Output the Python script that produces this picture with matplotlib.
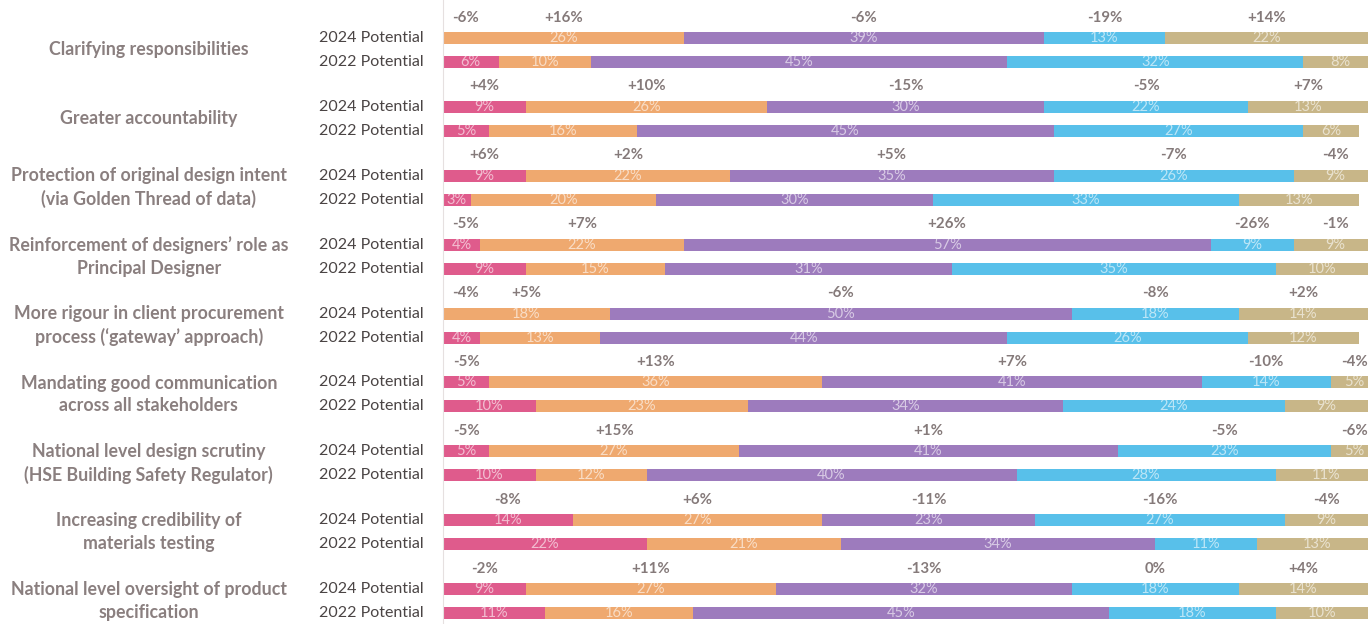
import matplotlib.pyplot as plt
import numpy as np

# Share of respondents per rating band, two survey years per question
questions = [
    "Clarifying responsibilities",
    "Greater accountability",
    "Protection of original design intent\n(via Golden Thread of data)",
    "Reinforcement of designers\u2019 role as\nPrincipal Designer",
    "More rigour in client procurement\nprocess (\u2018gateway\u2019 approach)",
    "Mandating good communication\nacross all stakeholders",
    "National level design scrutiny\n(HSE Building Safety Regulator)",
    "Increasing credibility of\nmaterials testing",
    "National level oversight of product\nspecification",
]
years = ["2024 Potential", "2022 Potential"]

potential_2024 = np.array([
    [0, 26, 39, 13, 22],
    [9, 26, 30, 22, 13],
    [9, 22, 35, 26, 9],
    [4, 22, 57, 9, 9],
    [0, 18, 50, 18, 14],
    [5, 36, 41, 14, 5],
    [5, 27, 41, 23, 5],
    [14, 27, 23, 27, 9],
    [9, 27, 32, 18, 14],
])
potential_2022 = np.array([
    [6, 10, 45, 32, 8],
    [5, 16, 45, 27, 6],
    [3, 20, 30, 33, 13],
    [9, 15, 31, 35, 10],
    [4, 13, 44, 26, 12],
    [10, 23, 34, 24, 9],
    [10, 12, 40, 28, 11],
    [22, 21, 34, 11, 13],
    [11, 16, 45, 18, 10],
])
changes = [
    ["-6%", "+16%", "-6%", "-19%", "+14%"],
    ["+4%", "+10%", "-15%", "-5%", "+7%"],
    ["+6%", "+2%", "+5%", "-7%", "-4%"],
    ["-5%", "+7%", "+26%", "-26%", "-1%"],
    ["-4%", "+5%", "-6%", "-8%", "+2%"],
    ["-5%", "+13%", "+7%", "-10%", "-4%"],
    ["-5%", "+15%", "+1%", "-5%", "-6%"],
    ["-8%", "+6%", "-11%", "-16%", "-4%"],
    ["-2%", "+11%", "-13%", "0%", "+4%"],
]

colors = ["#df5b8c", "#efa96f", "#9d7bbd", "#58c0ea", "#c8b688"]

plt.rcParams['font.family'] = ['Lato', 'DejaVu Sans']

fig = plt.figure(figsize=(13.71, 6.24), dpi=100)
ax = fig.add_axes([443 / 1371, 0, 925 / 1371, 1])

group_gap = 2.87
bar_h = 0.5

for i in range(len(questions)):
    y0 = i * group_gap
    for row, y in ((potential_2024[i], y0), (potential_2022[i], y0 + 1)):
        left = np.concatenate([[0], np.cumsum(row)[:-1]])
        ax.barh(y, row, left=left, height=bar_h, color=colors, linewidth=0)
        for v, l in zip(row, left):
            if v > 0:
                ax.text(l + v / 2, y, f"{v}%", ha="center", va="center",
                        fontsize=10.5, color="white", alpha=0.6)
    # change between years, above the 2024 bar
    row = potential_2024[i]
    left = np.concatenate([[0], np.cumsum(row)[:-1]])
    for v, l, c in zip(row, left, changes[i]):
        xc = max(l + v / 2, 2.4)
        ax.text(xc, y0 - 0.85, c, ha="center", va="center", fontsize=10.8,
                fontweight="bold", color="#857a7a")
    # year labels and question
    tr = ax.get_yaxis_transform()
    for k, yl in enumerate(years):
        ax.text(-0.021, y0 + k, yl, transform=tr, ha="right", va="center",
                fontsize=11.5, color="#4a4444")
    ax.text(-0.318, y0 + 0.5, questions[i], transform=tr, ha="center",
            va="center", fontsize=12.8, fontweight="bold", color="#8a7f7f",
            linespacing=1.4)

ax.set_xlim(0, 100)
ax.set_ylim(24.417, -1.583)
for s in ["top", "right", "bottom"]:
    ax.spines[s].set_visible(False)
ax.spines["left"].set_color("#e6e0e0")
ax.set_xticks([])
ax.set_yticks([])

fig.savefig("out.png", dpi=100)
